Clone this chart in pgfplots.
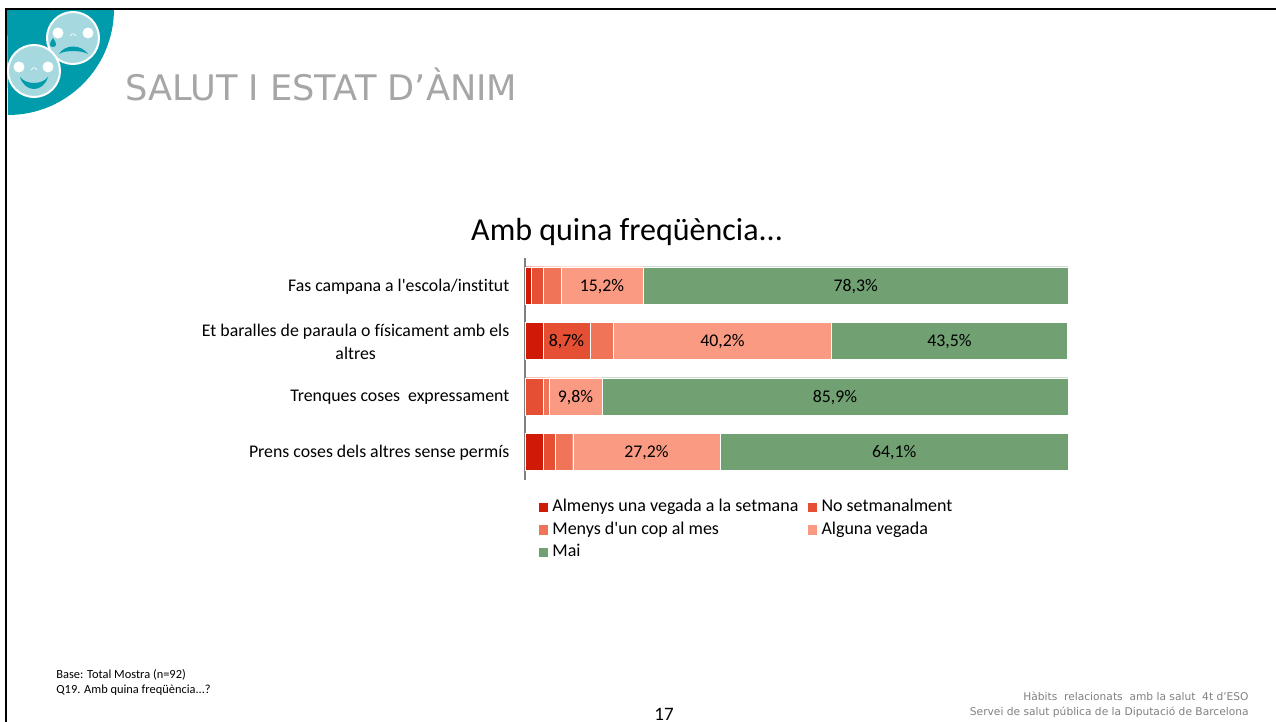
\documentclass[border=0pt]{standalone}
\usepackage{fontspec}
\defaultfontfeatures[\rmfamily]{}
\setmainfont{Carlito}[Ligatures=NoCommon]
\newfontfamily\slidefont{DejaVu Sans}
\usepackage{pgfplots}
\pgfplotsset{compat=1.18}
\definecolor{c1}{HTML}{D01A06}
\definecolor{c2}{HTML}{E54F33}
\definecolor{c3}{HTML}{F07558}
\definecolor{c4}{HTML}{FA9A82}
\definecolor{c5}{HTML}{71A173}
\definecolor{teal1}{HTML}{009CAC}
\definecolor{face}{HTML}{A6D8E0}
\pgfplotsset{
  sq/.style={legend image code/.code={\fill[##1] (0pt,-2.6pt) rectangle (5.2pt,2.6pt);}},
}
\begin{document}
\begin{tikzpicture}[x=0.5pt,y=-0.5pt]
\path[use as bounding box] (0,0) rectangle (1276,722);
% slide furniture
\fill[teal1] (7,9) -- (114,9) arc[start angle=0,end angle=90,x radius=106,y radius=106] -- cycle;
\draw[black,line width=1.2pt] (6,722) -- (6,9) -- (1276,9);
\fill[face,draw=white,line width=1pt] (73,38) circle (26);
\fill[white] (58,33) circle (5.5) (88,33) circle (5.5);
\draw[white,line width=0.3pt] (70,36) .. controls (72,33) and (74,33) .. (76,36);
\fill[teal1] (59,54) .. controls (65,44) and (81,44) .. (88,54) .. controls (81,50) and (65,50) .. cycle;
\fill[teal1] (53,38) .. controls (49,43) and (49,47) .. (53,47) .. controls (57,47) and (57,43) .. (53,38);
\fill[face,draw=white,line width=1pt] (34,71) circle (26);
\fill[white] (19,67) circle (5.5) (48,67) circle (5.5);
\draw[white,line width=0.3pt] (31,70) .. controls (33,67) and (35,67) .. (37,70);
\fill[teal1] (20,77) .. controls (25,93) and (43,93) .. (48,77) .. controls (42,85) and (26,85) .. cycle;
\node[anchor=base west,inner sep=0pt,text=black!35,font=\slidefont\fontsize{17.6pt}{19pt}\selectfont] at (125,101) {SALUT I ESTAT D’ÀNIM};
\node[anchor=base west,inner sep=0pt,font=\fontsize{6.2pt}{7pt}\selectfont] at (56,678) {Base: Total Mostra (n=92)};
\node[anchor=base west,inner sep=0pt,font=\fontsize{6.2pt}{7pt}\selectfont] at (56,693) {Q19. Amb quina freqüència...?};
\node[anchor=base,inner sep=0pt,font=\fontsize{9.5pt}{10pt}\selectfont] at (664,720) {17};
\node[anchor=base east,inner sep=0pt,text=black!50,font=\slidefont\fontsize{5.33pt}{6pt}\selectfont] at (1249,700) {Hàbits\ \ relacionats\ \ amb la salut\ \ 4t d’ESO};
\node[anchor=base east,inner sep=0pt,text=black!50,font=\slidefont\fontsize{5.33pt}{6pt}\selectfont] at (1249,715) {Servei de salut pública de la Diputació de Barcelona};
\begin{axis}[
  at={(262.5pt,-128.75pt)}, anchor=north west,
  scale only axis, width=271.5pt, height=111pt,
  xbar stacked, bar width=18.6pt,
  xmin=0, xmax=100.1, ymin=0.5, ymax=4.5, y dir=reverse,
  axis x line=none, axis y line=left,
  axis line style={draw=black!50,line width=0.75pt,-},
  ytick={1,2,3,4},
  yticklabels={Fas campana a l'escola/institut,{Et baralles de paraula o físicament amb els\\altres},Trenques coses\ \ expressament,Prens coses dels altres sense permís},
  ytick style={draw=none},
  yticklabel style={align=center,inner sep=0pt,xshift=-5.5pt,yshift=-0.6pt,font=\fontsize{8.9pt}{11.5pt}\selectfont},
  font=\fontsize{8.9pt}{10pt}\selectfont,
  title={Amb quina freqüència...},
  title style={at={(0.188,1.063)},anchor=center,inner sep=0pt,font=\fontsize{16pt}{18pt}\selectfont},
  point meta=explicit symbolic,
  nodes near coords,
  every node near coord/.append style={black,yshift=-0.6pt,font=\fontsize{8.9pt}{10pt}\selectfont},
  legend columns=2,
  legend style={at={(0.0228,-0.07)},anchor=north west,draw=none,fill=none,inner sep=0pt,
    font=\fontsize{9pt}{11pt}\selectfont,row sep=-0.5pt,
    /tikz/every even column/.append style={column sep=2.25pt}},
  legend cell align=left,
]
\addplot[fill=c1,draw=white,line width=0.1pt,sq] coordinates {(1.1,1) [] (3.3,2) [] (0,3) [] (3.3,4) []};
\addlegendentry{Almenys una vegada a la setmana}
\addplot[fill=c2,draw=white,line width=0.1pt,sq] coordinates {(2.2,1) [] (8.7,2) [{8,7\%}] (3.3,3) [] (2.2,4) []};
\addlegendentry{No setmanalment}
\addplot[fill=c3,draw=white,line width=0.1pt,sq] coordinates {(3.3,1) [] (4.3,2) [] (1.1,3) [] (3.3,4) []};
\addlegendentry{Menys d'un cop al mes}
\addplot[fill=c4,draw=white,line width=0.1pt,sq] coordinates {(15.2,1) [{15,2\%}] (40.2,2) [{40,2\%}] (9.8,3) [{9,8\%}] (27.2,4) [{27,2\%}]};
\addlegendentry{Alguna vegada}
\addplot[fill=c5,draw=white,line width=0.1pt,sq] coordinates {(78.3,1) [{78,3\%}] (43.5,2) [{43,5\%}] (85.9,3) [{85,9\%}] (64.1,4) [{64,1\%}]};
\addlegendentry{Mai}
\end{axis}
\end{tikzpicture}
\end{document}
